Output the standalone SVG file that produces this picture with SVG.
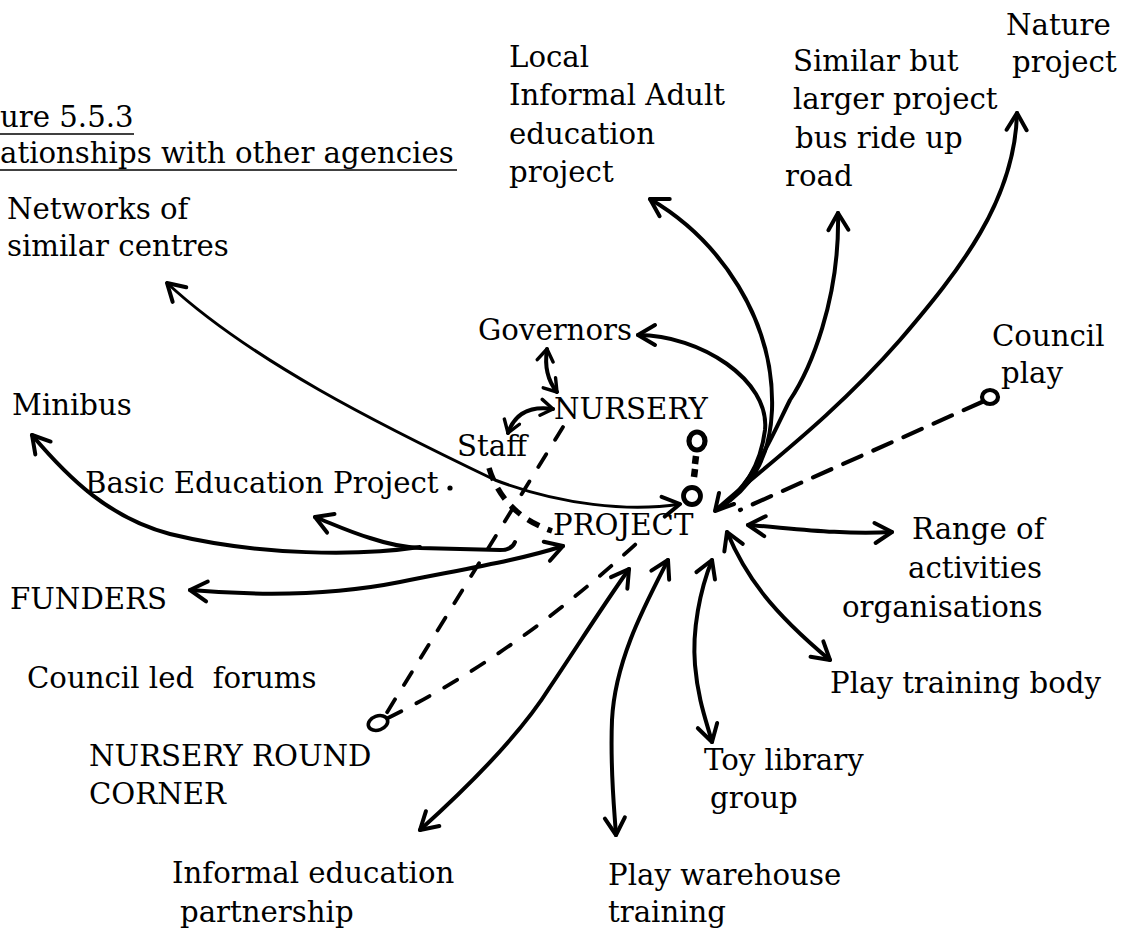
<svg xmlns="http://www.w3.org/2000/svg" width="1122" height="933" viewBox="0 0 1122 933">
<defs>
<style>
.t{font-family:"DejaVu Serif","Liberation Serif",serif;font-size:29.2px;fill:#000}
.c{fill:none;stroke:#000;stroke-width:4;stroke-linecap:round;stroke-linejoin:round}
.n{fill:none;stroke:#000;stroke-width:3;stroke-linecap:round;stroke-linejoin:round}
.d{fill:none;stroke:#000;stroke-width:3.8;stroke-linecap:round;stroke-dasharray:15 17}
.k{fill:none;stroke:#000;stroke-width:5.5;stroke-linecap:butt;stroke-dasharray:13 9}
.o{fill:none;stroke:#000;stroke-width:4.2}
.u{stroke:#000;stroke-width:1.6}
</style>
<marker id="a" viewBox="-22 -14 26 28" refX="0" refY="0" markerWidth="26" markerHeight="28" markerUnits="userSpaceOnUse" orient="auto-start-reverse">
<path d="M-17,-10 L0,0 L-17,10" fill="none" stroke="#000" stroke-width="4" stroke-linecap="round" stroke-linejoin="round"/>
</marker>
<marker id="s" viewBox="-16 -10 20 20" refX="0" refY="0" markerWidth="20" markerHeight="20" markerUnits="userSpaceOnUse" orient="auto-start-reverse">
<path d="M-12,-8 L0,0 L-12,8" fill="none" stroke="#000" stroke-width="3.4" stroke-linecap="round" stroke-linejoin="round"/>
</marker>
</defs>
<rect width="1122" height="933" fill="#fff"/>

<g id="title">
<text class="t" x="0" y="127">ure 5.5.3</text>
<line class="u" x1="0" y1="134" x2="134" y2="134"/>
<text class="t" x="0" y="163">ationships with other agencies</text>
<line class="u" x1="0" y1="170" x2="457" y2="170"/>
</g>

<g id="connectors">
<path class="n" d="M167,283 C250,360 380,425 495,480 C560,505 630,512 680,504" marker-start="url(#a)" marker-end="url(#a)"/>
<path class="c" d="M638,335 C700,335 770,380 765,430 C760,470 740,495 716,510" marker-start="url(#a)"/>
<path class="c" d="M650,199 C720,240 775,320 772,410 C770,460 750,490 716,510" marker-start="url(#a)"/>
<path class="c" d="M838,213 C840,300 810,370 790,400 C770,440 750,490 716,510" marker-start="url(#a)"/>
<path class="c" d="M1017,113 C1015,200 960,270 900,340 C830,420 760,470 716,510" marker-start="url(#a)"/>
<path class="c" d="M719,493 L715,511 L734,504"/>
<path class="c" d="M547,349 Q543,375 557,392" marker-start="url(#s)" marker-end="url(#s)"/>
<path class="c" d="M508,433 Q518,404 553,409" marker-start="url(#s)" marker-end="url(#s)"/>
<path class="c" d="M515,542 Q512,550 500,550 L420,548 C400,547 385,543 370,538 C350,532 335,525 315,517" marker-end="url(#a)"/>
<path class="c" d="M420,547 C360,556 260,556 170,534 C110,518 70,480 32,435" marker-end="url(#a)"/>
<path class="c" d="M190,590 C260,596 330,596 400,582 C470,568 520,560 563,546" marker-start="url(#a)" marker-end="url(#a)"/>
<path class="c" d="M629,569 C600,610 575,650 550,687 C520,735 470,785 420,830" marker-start="url(#a)" marker-end="url(#a)"/>
<path class="c" d="M668,560 C645,605 615,660 612,720 C610,770 614,805 616,835" marker-start="url(#a)" marker-end="url(#a)"/>
<path class="c" d="M712,560 C700,590 692,630 695,665 C698,700 706,720 712,742" marker-start="url(#a)" marker-end="url(#a)"/>
<path class="c" d="M727,532 C745,575 770,610 830,660" marker-start="url(#a)" marker-end="url(#a)"/>
<path class="c" d="M748,525 C790,528 840,535 892,532" marker-start="url(#a)" marker-end="url(#a)"/>
<path class="d" d="M982,402 L740,510" style="stroke-width:4.2;stroke-dasharray:20 13"/>
<ellipse class="o" cx="990" cy="397" rx="8" ry="7"/>
<ellipse class="o" cx="697" cy="441" rx="8" ry="9" style="stroke-width:5.2"/>
<path d="M696,456 L695,464 M695,469 L694,477" stroke="#000" stroke-width="6.5" fill="none"/>
<ellipse class="o" cx="692" cy="496" rx="8.5" ry="8.5" style="stroke-width:4.8"/>
<path class="d" d="M563,427 L386,714"/>
<path class="d" d="M388,718 Q515,655 638,542"/>
<ellipse class="o" cx="378" cy="723" rx="10" ry="7" transform="rotate(-20 378 723)" style="stroke-width:3.6"/>
<path class="k" d="M489,468 Q503,514 552,531"/>
<circle cx="450" cy="488" r="2.6" fill="#000"/>
</g>

<g id="networks"><text class="t" x="7" y="219">Networks of</text><text class="t" x="7" y="256">similar centres</text></g>
<g id="local"><text class="t" x="509" y="67">Local</text><text class="t" x="509" y="105">Informal Adult</text><text class="t" x="509" y="144">education</text><text class="t" x="509" y="182">project</text></g>
<g id="similar"><text class="t" x="793" y="71">Similar but</text><text class="t" x="793" y="109">larger project</text><text class="t" x="795" y="148">bus ride up</text><text class="t" x="785" y="186">road</text></g>
<g id="nature"><text class="t" x="1006" y="35">Nature</text><text class="t" x="1012" y="72">project</text></g>
<g id="governors"><text class="t" x="478" y="340">Governors</text></g>
<g id="council-play"><text class="t" x="992" y="346">Council</text><text class="t" x="1001" y="383">play</text></g>
<g id="nursery"><text class="t" x="554" y="419">NURSERY</text></g>
<g id="staff"><text class="t" x="457" y="456">Staff</text></g>
<g id="minibus"><text class="t" x="12" y="415">Minibus</text></g>
<g id="basic"><text class="t" x="85" y="493">Basic Education Project</text></g>
<g id="project"><text class="t" x="553" y="535">PROJECT</text></g>
<g id="funders"><text class="t" x="10" y="609">FUNDERS</text></g>
<g id="range"><text class="t" x="912" y="539">Range of</text><text class="t" x="908" y="578">activities</text><text class="t" x="842" y="617">organisations</text></g>
<g id="play-training"><text class="t" x="830" y="693">Play training body</text></g>
<g id="council-forums"><text class="t" x="27" y="688" xml:space="preserve">Council led  forums</text></g>
<g id="nursery-round"><text class="t" x="89" y="766">NURSERY ROUND</text><text class="t" x="89" y="804">CORNER</text></g>
<g id="toy"><text class="t" x="704" y="770">Toy library</text><text class="t" x="710" y="808">group</text></g>
<g id="informal-ed"><text class="t" x="172" y="883">Informal education</text><text class="t" x="180" y="922">partnership</text></g>
<g id="warehouse"><text class="t" x="608" y="885">Play warehouse</text><text class="t" x="608" y="922">training</text></g>
</svg>
